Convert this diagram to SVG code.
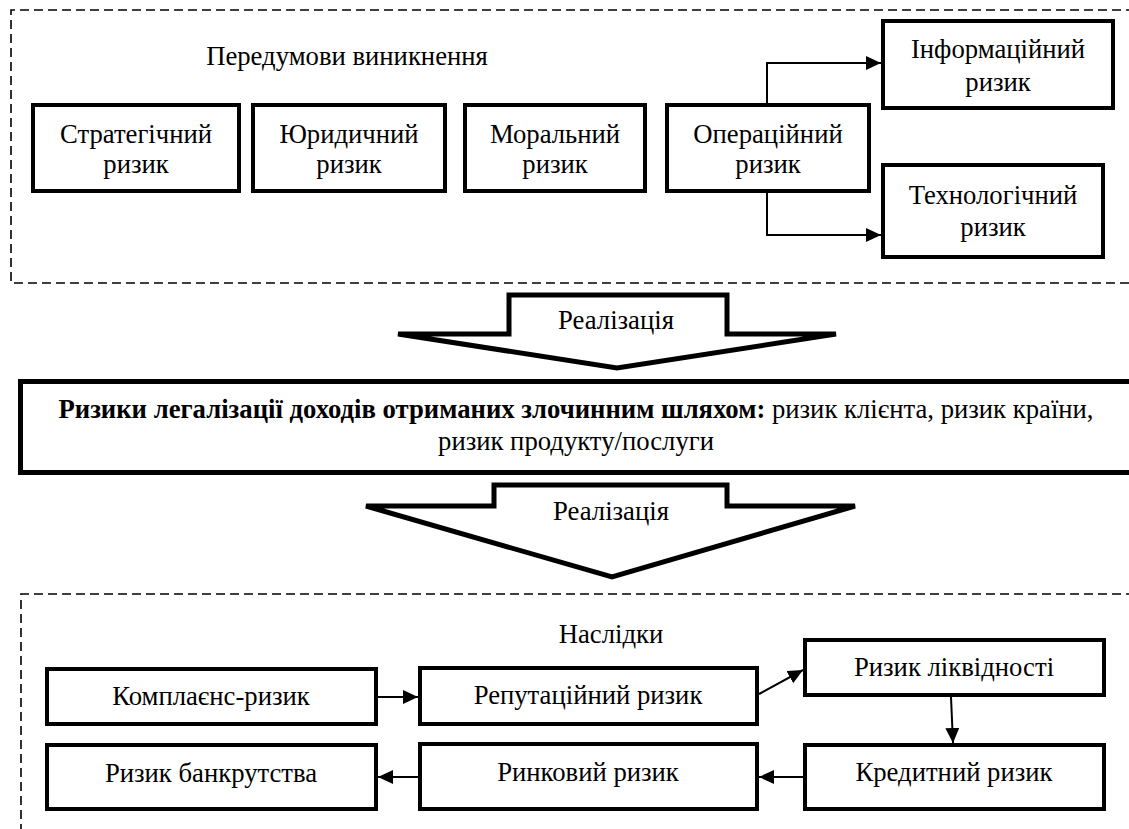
<svg xmlns="http://www.w3.org/2000/svg" width="1129" height="829" viewBox="0 0 1129 829">
<style>
text{font-family:"Liberation Serif","Times New Roman",serif;font-size:26.7px;fill:#000;text-anchor:middle}
.box{fill:#fff;stroke:#000;stroke-width:4}
.dash{fill:none;stroke:#000;stroke-width:1.6;stroke-dasharray:9 5}
.con{fill:none;stroke:#000;stroke-width:2}
.big{fill:#fff;stroke:#000;stroke-width:5;stroke-linejoin:miter}
</style>
<defs>
<marker id="ah" markerUnits="userSpaceOnUse" markerWidth="16" markerHeight="16" refX="15" refY="7" orient="auto">
<path d="M0,0 L15,7 L0,14 Z" fill="#000"/>
</marker>
</defs>
<rect width="1129" height="829" fill="#fff"/>
<g id="region-top">
<path class="dash" d="M1135,10 H11 V283 H1135"/>
<text x="347" y="65">Передумови виникнення</text>
</g>
<g id="region-bottom">
<path class="dash" d="M1135,594 H21 V835"/>
<text x="611" y="643">Наслідки</text>
</g>
<g id="connectors">
<path class="con" d="M767,103 V63 H881" marker-end="url(#ah)"/>
<path class="con" d="M767,193 V235 H881" marker-end="url(#ah)"/>
<path class="con" d="M378,697 H418" marker-end="url(#ah)"/>
<path class="con" d="M759,694 L803,670" marker-end="url(#ah)"/>
<path class="con" d="M951,697 L953,743" marker-end="url(#ah)"/>
<path class="con" d="M803,777 H759" marker-end="url(#ah)"/>
<path class="con" d="M418,777 H378" marker-end="url(#ah)"/>
</g>
<g id="n-strat"><rect class="box" x="33" y="105" width="206" height="86"/><text x="136" y="143">Стратегічний</text><text x="136" y="173">ризик</text></g>
<g id="n-jur"><rect class="box" x="253" y="105" width="192" height="86"/><text x="349" y="143">Юридичний</text><text x="349" y="173">ризик</text></g>
<g id="n-mor"><rect class="box" x="465" y="105" width="180" height="86"/><text x="555" y="143">Моральний</text><text x="555" y="173">ризик</text></g>
<g id="n-oper"><rect class="box" x="667" y="105" width="202" height="86"/><text x="768" y="143">Операційний</text><text x="768" y="173">ризик</text></g>
<g id="n-inf"><rect class="box" x="883" y="21" width="230" height="87"/><text x="998" y="58">Інформаційний</text><text x="998" y="91">ризик</text></g>
<g id="n-tech"><rect class="box" x="883" y="165" width="220" height="92"/><text x="993" y="204">Технологічний</text><text x="993" y="236">ризик</text></g>
<g id="arrow1"><polygon class="big" points="509,295 727,295 727,334 836,334 617,368 398,334 509,334"/><text x="616" y="329">Реалізація</text></g>
<g id="n-main"><rect class="big" x="20.5" y="381.5" width="1120" height="91"/>
<text x="576" y="418"><tspan font-weight="bold">Ризики легалізації доходів отриманих злочинним шляхом:</tspan> ризик клієнта, ризик країни,</text>
<text x="576" y="450">ризик продукту/послуги</text></g>
<g id="arrow2"><polygon class="big" points="494,485 727,485 727,506 855,506 612,577 366,506 494,506"/><text x="611" y="520">Реалізація</text></g>
<g id="n-compl"><rect class="box" x="47" y="669" width="329" height="55"/><text x="211" y="705">Комплаєнс-ризик</text></g>
<g id="n-rep"><rect class="box" x="420" y="668" width="337" height="56"/><text x="588" y="704">Репутаційний ризик</text></g>
<g id="n-liq"><rect class="box" x="805" y="640" width="299" height="55"/><text x="954" y="676">Ризик ліквідності</text></g>
<g id="n-bank"><rect class="box" x="47" y="745" width="329" height="64"/><text x="211" y="782">Ризик банкрутства</text></g>
<g id="n-mkt"><rect class="box" x="420" y="744" width="337" height="65"/><text x="588" y="781">Ринковий ризик</text></g>
<g id="n-cred"><rect class="box" x="805" y="745" width="299" height="64"/><text x="954" y="781">Кредитний ризик</text></g>
</svg>
